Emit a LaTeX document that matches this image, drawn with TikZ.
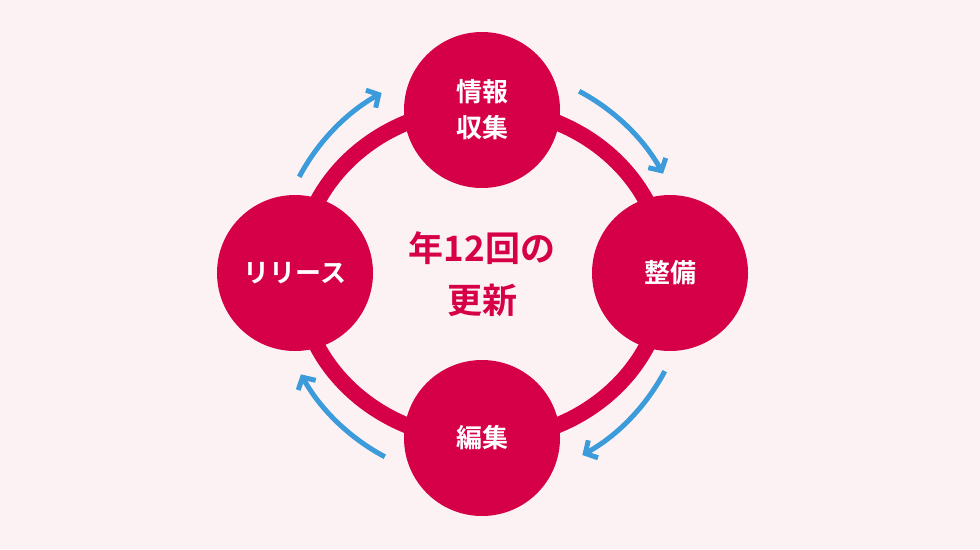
\documentclass[tikz,border=0pt]{standalone}
\usepackage{fontspec}
\newfontfamily\cjk{Noto Sans CJK JP Bold}
\usetikzlibrary{arrows.meta}
\definecolor{bg}{HTML}{FDF2F3}
\definecolor{crim}{HTML}{D50047}
\definecolor{blu}{HTML}{3C9BDB}
\begin{document}
\begin{tikzpicture}[x=1pt,y=-1pt,
  stage/.style={circle,fill=crim,minimum size=156pt,inner sep=0pt,text=white,font=\cjk\fontsize{26}{36}\selectfont,align=center},
  flow/.style={blu,line width=5pt,-{Straight Barb[length=9pt,width=20pt,line width=5pt]}}]
\fill[bg] (0,0) rectangle (980,549);
\useasboundingbox (0,0) rectangle (980,549);
\coordinate (c) at (482,274);
\draw[crim,line width=16pt] (c) ellipse[x radius=183,y radius=166];
\node[stage] (top) at (482,110) {情報\\収集};
\node[stage] (right) at (670,273) {整備};
\node[stage] (bot) at (482,438) {編集};
\node[stage] (left) at (295,273) {リリース};
\node[text=crim,font=\cjk\fontsize{35}{52}\selectfont,align=center] (mid) at (c) {年12回の\\更新};
\draw[flow] ([shift={(-152:207)}]c) arc[start angle=-152,end angle=-119,radius=207];
\draw[flow] ([shift={(-62:207)}]c) arc[start angle=-62,end angle=-29,radius=207];
\draw[flow] ([shift={(28:207)}]c) arc[start angle=28,end angle=61,radius=207];
\draw[flow] ([shift={(118:207)}]c) arc[start angle=118,end angle=151,radius=207];
\end{tikzpicture}
\end{document}
